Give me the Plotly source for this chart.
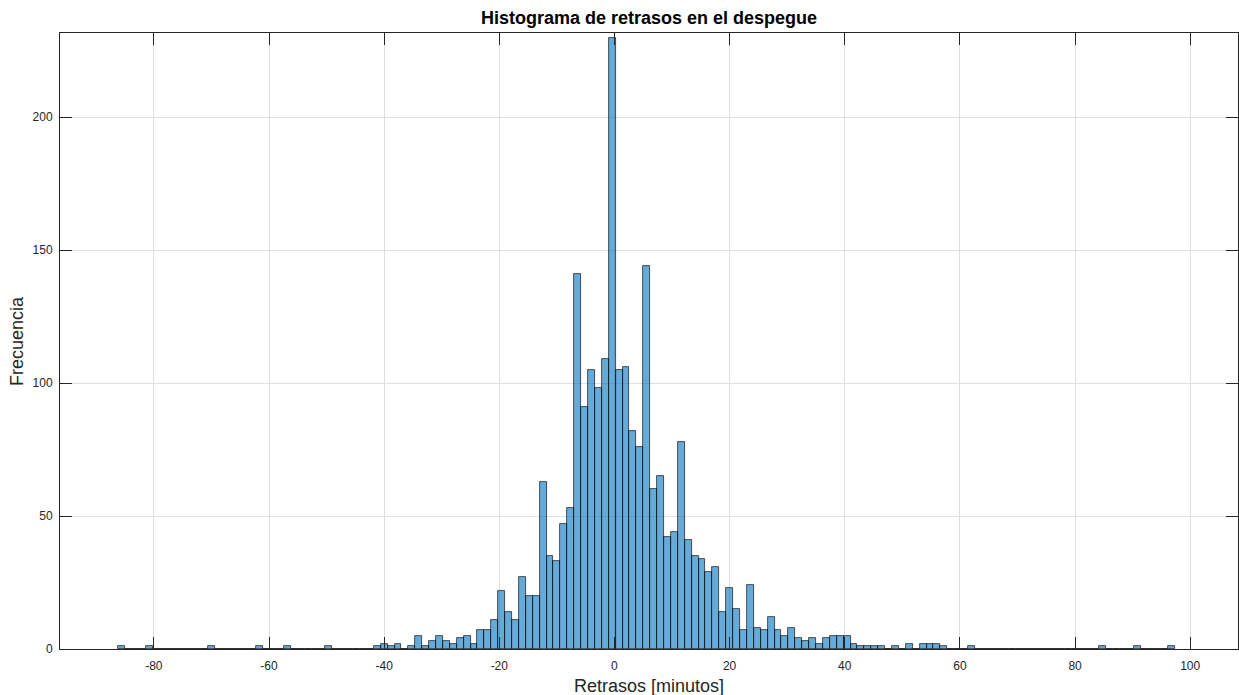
import plotly.graph_objects as go

# Histogram of take-off delays: 1.2-minute bins starting at -86.2 min
bin_start = -86.2
bin_width = 1.2
counts = [
    1, 0, 0, 0, 1, 0, 0, 0, 0, 0,
    0, 0, 0, 1, 0, 0, 0, 0, 0, 0,
    1, 0, 0, 0, 1, 0, 0, 0, 0, 0,
    1, 0, 0, 0, 0, 0, 0, 1, 2, 1,
    2, 0, 1, 5, 1, 3, 5, 3, 2, 4,
    5, 2, 7, 7, 11, 22, 14, 11, 27, 20,
    20, 63, 35, 33, 47, 53, 141, 91, 105, 98,
    109, 230, 105, 106, 82, 76, 144, 60, 65, 42,
    44, 78, 41, 35, 34, 29, 31, 14, 23, 15,
    7, 24, 8, 7, 12, 7, 5, 8, 4, 3,
    4, 2, 4, 5, 5, 5, 2, 1, 1, 1,
    1, 0, 1, 0, 2, 0, 2, 2, 2, 1,
    0, 0, 0, 1, 0, 0, 0, 0, 0, 0,
    0, 0, 0, 0, 0, 0, 0, 0, 0, 0,
    0, 0, 1, 0, 0, 0, 0, 1, 0, 0,
    0, 0, 1,
]
x_ticks = [-80, -60, -40, -20, 0, 20, 40, 60, 80, 100]
y_ticks = [0, 50, 100, 150, 200]

centers = [bin_start + bin_width * (i + 0.5) for i in range(len(counts))]

FONT = "Liberation Sans, Arial, Helvetica, sans-serif"
AX = "#262626"
GRID = "#dfdfdf"

fig = go.Figure(
    go.Bar(
        x=centers,
        y=counts,
        width=bin_width,
        marker=dict(color="rgba(0,114,189,0.6)", line=dict(color="rgba(0,0,0,0.8)", width=0.8)),
        hoverinfo="x+y",
    )
)

axis_common = dict(
    showline=True,
    linecolor=AX,
    linewidth=1,
    mirror="ticks",
    ticks="inside",
    ticklen=12,
    tickwidth=1,
    tickcolor=AX,
    showgrid=True,
    gridcolor=GRID,
    gridwidth=1,
    zeroline=False,
    tickfont=dict(family=FONT, size=12, color=AX),
)

fig.update_xaxes(
    range=[-96.3, 108.3],
    tickvals=x_ticks,
    ticktext=[str(v) for v in x_ticks],
    ticklabelstandoff=6,
    **axis_common,
)
fig.update_yaxes(
    range=[0, 231.7],
    tickvals=y_ticks,
    ticktext=[str(v) for v in y_ticks],
    ticklabelstandoff=4,
    **axis_common,
)

fig.update_layout(
    width=1239,
    height=695,
    margin=dict(l=60, r=1, t=33, b=46),
    paper_bgcolor="white",
    plot_bgcolor="white",
    bargap=0,
    showlegend=False,
    font=dict(family=FONT, color=AX),
    annotations=[
        dict(
            text="<b>Histograma de retrasos en el despegue</b>",
            x=0.5, xref="paper", y=1, yref="paper",
            xanchor="center", yanchor="middle", yshift=15,
            showarrow=False, font=dict(family=FONT, size=18, color="black"),
        ),
        dict(
            text="Retrasos [minutos]",
            x=0.5, xref="paper", y=0, yref="paper",
            xanchor="center", yanchor="middle", yshift=-37,
            showarrow=False, font=dict(family=FONT, size=18, color=AX),
        ),
        dict(
            text="Frecuencia",
            x=0, xref="paper", y=0.5, yref="paper",
            xanchor="center", yanchor="middle", xshift=-43,
            textangle=-90, showarrow=False,
            font=dict(family=FONT, size=18, color=AX),
        ),
    ],
)

fig.write_html("out.html")
